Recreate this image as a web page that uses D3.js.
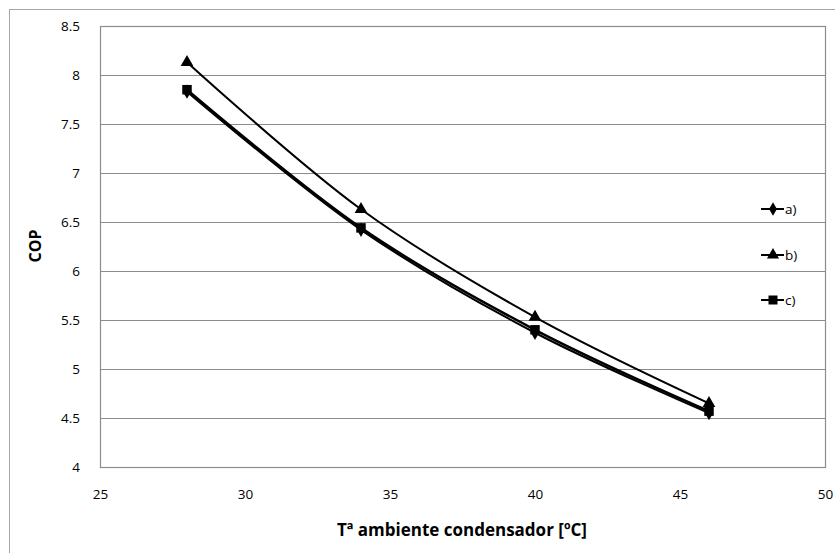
<!DOCTYPE html>
<html><head><meta charset="utf-8">
<script src="https://cdn.jsdelivr.net/npm/d3@7"></script>
<style>body{margin:0;background:#fff}svg{display:block;font-family:"Open Sans",Lato,sans-serif}</style>
</head><body><svg id="c" width="835" height="553"></svg>
<script>
const temps = [28, 34, 40, 46];
const seriesA = [7.83, 6.42, 5.37, 4.55];
const seriesB = [8.13, 6.63, 5.53, 4.65];
const seriesC = [7.85, 6.44, 5.40, 4.57];
const seriesNames = ["a)", "b)", "c)"];
const xTicks = [25, 30, 35, 40, 45, 50];
const yTicks = [4, 4.5, 5, 5.5, 6, 6.5, 7, 7.5, 8, 8.5];

const svg = d3.select("#c");
const L = 100, R = 825, T = 26, B = 467;
const x = d3.scaleLinear().domain([25, 50]).range([L, R]);
const y = d3.scaleLinear().domain([4, 8.5]).range([B, T]);
const FF = "'Open Sans',Lato,sans-serif";

svg.append("rect").attr("x", 9.5).attr("y", 9.5).attr("width", 840).attr("height", 560)
  .attr("fill", "none").attr("stroke", "#a6a6a6").attr("stroke-width", 1);

svg.append("g").selectAll("line").data(yTicks).join("line")
  .attr("x1", L).attr("x2", R).attr("y1", d => Math.round(y(d)) + 0.5).attr("y2", d => Math.round(y(d)) + 0.5)
  .attr("stroke", "#8c8c8c").attr("stroke-width", 1);
svg.append("rect").attr("x", L + 0.5).attr("y", T + 0.5).attr("width", R - L).attr("height", B - T)
  .attr("fill", "none").attr("stroke", "#8c8c8c").attr("stroke-width", 1.2);

const yAxis = d3.axisLeft(y).tickValues(yTicks).tickSize(0).tickPadding(20).tickFormat(d3.format("~g"));
const ga = svg.append("g").attr("transform", `translate(${L},0)`).call(yAxis);
ga.select(".domain").remove();
ga.selectAll("text").attr("font-size", 13.5).attr("fill", "#000").attr("font-family", FF);

const xAxis = d3.axisBottom(x).tickValues(xTicks).tickSize(0).tickPadding(22).tickFormat(d3.format("d"));
const gx = svg.append("g").attr("transform", `translate(0,${B})`).call(xAxis);
gx.select(".domain").remove();
gx.selectAll("text").attr("font-size", 13.5).attr("fill", "#000").attr("font-family", FF);

svg.append("text").attr("x", 462).attr("y", 536).attr("text-anchor", "middle").attr("font-family", FF)
  .attr("font-weight", "bold").attr("font-size", 17).text("Tª ambiente condensador [ºC]");
svg.append("text").attr("transform", "translate(41,246) rotate(-90)").attr("text-anchor", "middle").attr("font-family", FF)
  .attr("font-weight", "bold").attr("font-size", 16).text("COP");

const line = d3.line().x((d, i) => x(temps[i])).y(d => y(d)).curve(d3.curveCatmullRom.alpha(0.5));
const data = [
  {vals: seriesA, w: 2, sym: d3.symbolDiamond, size: 60},
  {vals: seriesB, w: 2, sym: d3.symbolTriangle, size: 70},
  {vals: seriesC, w: 2.5, sym: d3.symbolSquare, size: 90}
];
[2, 0, 1].forEach(k => {
  const s = data[k];
  svg.append("path").attr("d", line(s.vals)).attr("fill", "none").attr("stroke", "#000").attr("stroke-width", s.w);
});
[2, 0, 1].forEach(k => {
  const s = data[k];
  svg.append("g").selectAll("path").data(s.vals).join("path")
    .attr("transform", (d, i) => `translate(${x(temps[i])},${y(d)})`)
    .attr("d", d3.symbol().type(s.sym).size(s.size)).attr("fill", "#000");
});

const legY = [209, 255, 300];
data.forEach((s, k) => {
  const g = svg.append("g").attr("transform", `translate(0,${legY[k]})`);
  g.append("line").attr("x1", 761).attr("x2", 784).attr("y1", 0).attr("y2", 0).attr("stroke", "#000").attr("stroke-width", 2);
  g.append("path").attr("transform", "translate(773,0)").attr("d", d3.symbol().type(s.sym).size(s.size * 0.9)).attr("fill", "#000");
  g.append("text").attr("x", 785).attr("y", 5).attr("font-size", 13.5).attr("font-family", FF).text(seriesNames[k]);
});
</script></body></html>
